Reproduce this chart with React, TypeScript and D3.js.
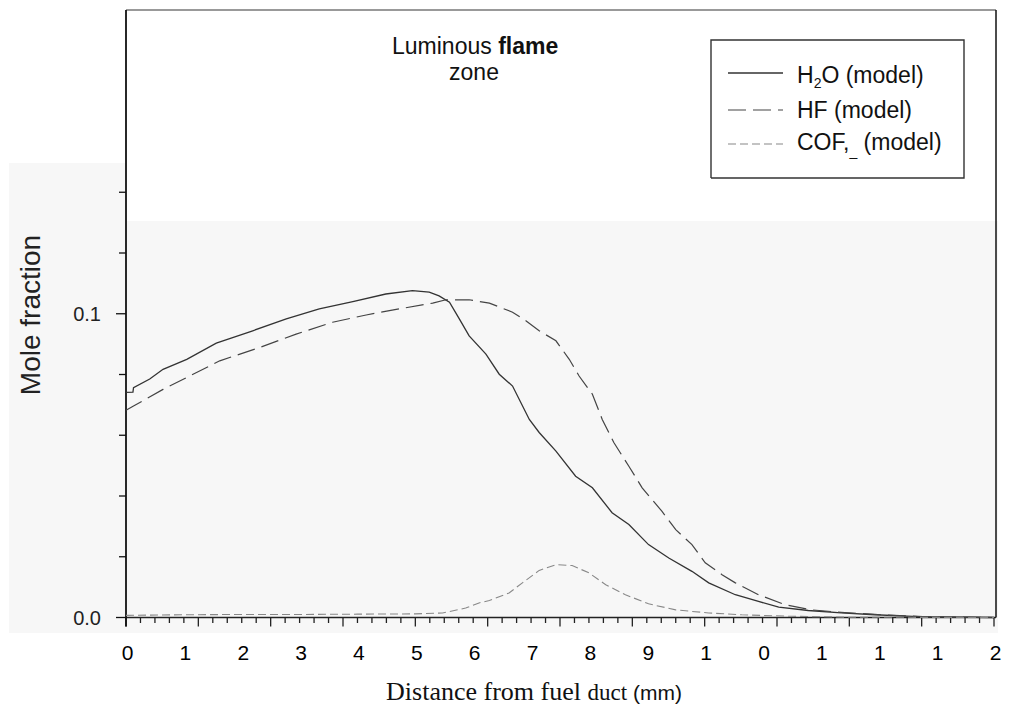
import React, { useEffect, useRef } from "react";
import * as d3 from "d3";

// distance (axis units) vs mole fraction
const h2oModel: [number, number][] = [
  [0, 0.0741], [0.12, 0.0742], [0.13, 0.0757], [0.41, 0.0785], [0.64, 0.0817],
  [1.05, 0.085], [1.56, 0.0903], [2.19, 0.0944], [2.77, 0.0983], [3.34, 0.1016],
  [3.92, 0.104], [4.49, 0.1065], [4.95, 0.1076], [5.24, 0.1071], [5.41, 0.1059],
  [5.59, 0.1038], [5.76, 0.0983], [5.93, 0.0927], [6.22, 0.0867], [6.45, 0.0801],
  [6.68, 0.0762], [6.97, 0.0652], [7.14, 0.0609], [7.43, 0.0548], [7.77, 0.0465],
  [8.06, 0.0427], [8.4, 0.0345], [8.69, 0.0306], [9.03, 0.024], [9.38, 0.0196],
  [9.78, 0.0152], [10.07, 0.0114], [10.53, 0.0075], [10.93, 0.0053], [11.28, 0.0034],
  [11.79, 0.0023], [12.36, 0.0015], [12.94, 0.0009], [13.69, 0.0003], [15, 0],
];

const hfModel: [number, number][] = [
  [0, 0.0682], [0.13, 0.0696], [0.64, 0.0751], [1.1, 0.0795], [1.62, 0.0845],
  [2.31, 0.0889], [2.94, 0.0933], [3.57, 0.0972], [4.15, 0.0996], [4.78, 0.1018],
  [5.3, 0.1035], [5.53, 0.1046], [5.93, 0.1046], [6.28, 0.1035], [6.68, 0.1005],
  [6.91, 0.0977], [7.14, 0.0944], [7.43, 0.0911], [7.66, 0.085], [7.83, 0.0795],
  [8.06, 0.0735], [8.23, 0.0652], [8.43, 0.0576], [8.69, 0.0498], [8.92, 0.0427],
  [9.26, 0.035], [9.5, 0.0289], [9.78, 0.024], [10.01, 0.018], [10.3, 0.0141],
  [10.53, 0.0114], [10.93, 0.0075], [11.39, 0.0042], [11.85, 0.0025], [12.36, 0.0017],
  [12.94, 0.001], [13.86, 0.0002], [15, 0],
];

const cof2Model: [number, number][] = [
  [0, 0.0007], [1, 0.0009], [2, 0.001], [3, 0.001], [4, 0.0011], [5, 0.0012],
  [5.47, 0.0015], [5.87, 0.0031], [6.1, 0.0048], [6.28, 0.0056], [6.62, 0.0081],
  [6.85, 0.0114], [7.14, 0.0155], [7.43, 0.0174], [7.71, 0.0171], [8.0, 0.0147],
  [8.29, 0.0108], [8.63, 0.0075], [9.03, 0.0045], [9.5, 0.0025], [10.07, 0.0015],
  [10.64, 0.0009], [11.5, 0.0004], [12.5, 0.0001], [15, 0],
];

// tick labels as printed (truncated in the original)
const xTickLabels = ["0", "1", "2", "3", "4", "5", "6", "7", "8", "9", "1", "0", "1", "1", "1", "2"];
const yTickLabels = [
  { value: 0, label: "0.0" },
  { value: 0.1, label: "0.1" },
];

const series = [
  { key: "h2o", data: h2oModel, stroke: "#333", dash: null, width: 1.3 },
  { key: "hf", data: hfModel, stroke: "#444", dash: "18,7", width: 1.2 },
  { key: "cof2", data: cof2Model, stroke: "#888", dash: "8,4", width: 1.1 },
];

export default function App() {
  const svgRef = useRef<SVGSVGElement>(null);

  useEffect(() => {
    const width = 1013;
    const height = 717;
    const left = 126;
    const right = 994;
    const bottom = 617.5;
    const top = 10;

    const svg = d3.select(svgRef.current);
    svg.selectAll("*").remove();
    svg.attr("width", width).attr("height", height).attr("viewBox", [0, 0, width, height]);

    const x = d3.scaleLinear().domain([0, 15]).range([left, right]);
    const y = d3.scaleLinear().domain([0, 0.2]).range([bottom, top]);

    // grey panels of the scanned figure
    svg.append("rect").attr("x", 9).attr("y", 163).attr("width", left - 9).attr("height", 633 - 163).attr("fill", "#f7f7f7");
    svg.append("rect").attr("x", left).attr("y", 221).attr("width", 998 - left).attr("height", 633 - 221).attr("fill", "#f7f7f7");

    // frame
    svg.append("line").attr("x1", left).attr("x2", right + 2).attr("y1", top).attr("y2", top).attr("stroke", "#777").attr("stroke-width", 1.5);
    svg.append("line").attr("x1", right + 2).attr("x2", right + 2).attr("y1", top).attr("y2", bottom).attr("stroke", "#111").attr("stroke-width", 1.5);

    // x axis: 60 minor ticks, long every 5
    const xAxis = svg.append("g").attr("stroke", "#222");
    xAxis.append("line").attr("x1", left).attr("x2", right + 2).attr("y1", bottom).attr("y2", bottom).attr("stroke-width", 1.5);
    const minor = d3.range(0, 61).map((i) => (i * 15) / 60);
    xAxis
      .selectAll("line.tick")
      .data(minor)
      .join("line")
      .attr("class", "tick")
      .attr("x1", (d) => x(d))
      .attr("x2", (d) => x(d))
      .attr("y1", bottom)
      .attr("y2", (d, i) => bottom + (i % 5 === 0 ? 9 : 5.5))
      .attr("stroke-width", 1.3);

    svg
      .append("g")
      .attr("font-family", "Liberation Sans, Arial, sans-serif")
      .attr("font-size", 21)
      .attr("text-anchor", "middle")
      .selectAll("text")
      .data(xTickLabels)
      .join("text")
      .attr("x", (d, i) => x(i) + 1.5)
      .attr("y", 660)
      .text((d) => d);

    // y axis
    const yAxis = svg.append("g").attr("stroke", "#111");
    yAxis.append("line").attr("x1", left).attr("x2", left).attr("y1", top).attr("y2", bottom + 9).attr("stroke-width", 1.8);
    const yTicks = d3.range(0, 8).map((i) => i * 0.02);
    yAxis
      .selectAll("line.tick")
      .data(yTicks)
      .join("line")
      .attr("class", "tick")
      .attr("x1", (d) => (Math.abs(d - 0.1) < 1e-9 || d === 0 ? left - 10 : left - 7))
      .attr("x2", left)
      .attr("y1", (d) => y(d))
      .attr("y2", (d) => y(d))
      .attr("stroke-width", 1.3);

    svg
      .append("g")
      .attr("font-family", "Liberation Sans, Arial, sans-serif")
      .attr("font-size", 20)
      .attr("text-anchor", "end")
      .selectAll("text")
      .data(yTickLabels)
      .join("text")
      .attr("x", 101)
      .attr("y", (d) => y(d.value))
      .attr("dy", "0.36em")
      .attr("fill", "#222")
      .text((d) => d.label);

    // axis titles
    svg
      .append("text")
      .attr("transform", "translate(40,315) rotate(-90)")
      .attr("text-anchor", "middle")
      .attr("font-family", "Liberation Sans, Arial, sans-serif")
      .attr("font-size", 28)
      .attr("fill", "#222")
      .text("Mole fraction");

    const xTitle = svg
      .append("text")
      .attr("x", 534)
      .attr("y", 700)
      .attr("text-anchor", "middle")
      .attr("font-family", "Liberation Serif, Times New Roman, serif")
      .attr("font-size", 26)
      .attr("fill", "#111");
    xTitle.append("tspan").text("Distance from fuel ");
    xTitle.append("tspan").attr("font-size", 23).text("duct");
    xTitle.append("tspan").attr("font-family", "Liberation Sans, Arial, sans-serif").attr("font-size", 21).text(" (mm)");

    // curves
    const line = d3
      .line<[number, number]>()
      .x((d) => x(d[0]))
      .y((d) => y(d[1]));

    svg
      .append("g")
      .attr("fill", "none")
      .selectAll("path")
      .data(series)
      .join("path")
      .attr("d", (d) => line(d.data))
      .attr("stroke", (d) => d.stroke)
      .attr("stroke-width", (d) => d.width)
      .attr("stroke-dasharray", (d) => d.dash);

    // annotation
    const note = svg
      .append("g")
      .attr("font-family", "Liberation Sans, Arial, sans-serif")
      .attr("font-size", 23)
      .attr("fill", "#111");
    const l1 = note.append("text").attr("x", 392).attr("y", 54);
    l1.append("tspan").text("Luminous ");
    l1.append("tspan").attr("font-weight", "bold").text("flame");
    note.append("text").attr("x", 474).attr("y", 80).attr("text-anchor", "middle").text("zone");

    // legend
    const legend = svg.append("g");
    legend
      .append("path")
      .attr("d", "M711,178 L711,40 L964,40 L964,178 L711,178")
      .attr("fill", "none")
      .attr("stroke", "#333")
      .attr("stroke-width", 1.4);

    const rows = [73, 110, 144];
    const labelsY = [83, 118, 150];
    legend
      .selectAll("line.sample")
      .data(series)
      .join("line")
      .attr("class", "sample")
      .attr("x1", 728)
      .attr("x2", 783)
      .attr("y1", (d, i) => rows[i])
      .attr("y2", (d, i) => rows[i])
      .attr("stroke", (d) => d.stroke)
      .attr("stroke-width", (d) => d.width)
      .attr("stroke-dasharray", (d) => d.dash);

    const lt = legend
      .append("g")
      .attr("font-family", "Liberation Sans, Arial, sans-serif")
      .attr("font-size", 23)
      .attr("fill", "#111");

    const t1 = lt.append("text").attr("x", 797).attr("y", labelsY[0]);
    t1.append("tspan").text("H");
    t1.append("tspan").attr("font-size", 14).attr("dy", 5).text("2");
    t1.append("tspan").attr("dy", -5).text("O (model)");

    lt.append("text").attr("x", 797).attr("y", labelsY[1]).text("HF (model)");

    const t3 = lt.append("text").attr("x", 797).attr("y", labelsY[2]);
    t3.append("tspan").text("COF,");
    t3.append("tspan").attr("font-size", 14).attr("dy", 6).text("_");
    t3.append("tspan").attr("dy", -6).text(" (model)");
  }, []);

  return <svg ref={svgRef} style={{ position: "absolute", left: 0, top: 0, background: "#fff" }}></svg>;
}
